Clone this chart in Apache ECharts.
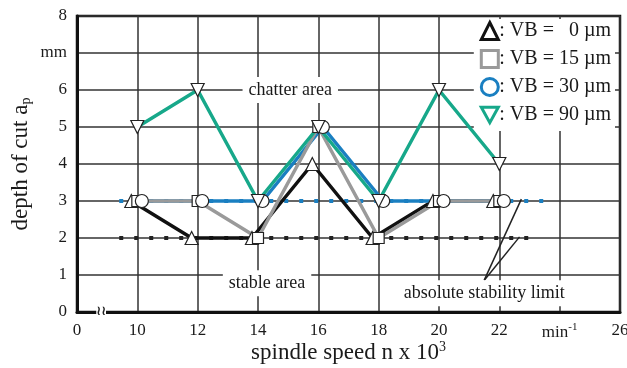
<!DOCTYPE html>
<html>
<head>
<meta charset="utf-8">
<script src="https://cdn.jsdelivr.net/npm/echarts@6/dist/echarts.min.js"></script>
<style>
  html, body { margin: 0; padding: 0; background: #fff; }
  #chart { width: 627px; height: 368px; }
</style>
</head>
<body>
<div id="chart"></div>
<script>
// spindle speed (x 10^3 min^-1) and depth of cut (mm) per flank wear VB
const speeds = [10, 12, 14, 16, 18, 20, 22];
const vb0 = [3, 2, 2, 4, 2, 3, 3];
const vb15 = [3, 3, 2, 5, 2, 3, 3];
const vb30 = [3, 3, 3, 5, 3, 3, 3];
const vb90 = [5, 6, 3, 5, 3, 6, 4];
const seriesNames = [': VB =   0 µm', ': VB = 15 µm', ': VB = 30 µm', ': VB = 90 µm'];

// absolute stability limits: [xStart, xEnd, depth]
const limitBlack = [9.4, 23.0, 2];
const limitBlue = [9.4, 23.5, 3];

const yTicks = [0, 1, 2, 3, 4, 5, 6, 7, 8];
const xTicks = [8, 10, 12, 14, 16, 18, 20, 22, 24, 26];

const serif = '"Liberation Serif", "DejaVu Serif", serif';
const colors = ['#111111', '#9a9a9a', '#1a7fc1', '#17a88a'];
const symbols = ['triangle', 'rect', 'circle', 'path://M0,0 L10,0 L5,9 Z'];
// small horizontal shifts the figure uses so overlapping markers stay visible
const shifts = [-0.2, 0, 0.15, 0];
const allValues = [vb0, vb15, vb30, vb90];

const chart = echarts.init(document.getElementById('chart'));

const lineSeries = allValues.map((vals, i) => ({
  name: seriesNames[i],
  type: 'line',
  data: speeds.map((s, k) => [s + shifts[i], vals[k]]),
  showSymbol: false,
  lineStyle: { color: colors[i], width: 3.5 },
  itemStyle: { color: colors[i] },
  z: [3, 5, 4, 6][i]
}));

const markerSeries = allValues.map((vals, i) => ({
  name: seriesNames[i],
  type: 'scatter',
  data: speeds.map((s, k) => [s + shifts[i], vals[k]]),
  symbol: i === 3 ? 'triangle' : symbols[i],
  symbolRotate: i === 3 ? 180 : 0,
  symbolSize: i === 1 ? 11 : 13,
  itemStyle: { color: '#fff', borderColor: '#222', borderWidth: 1.2, opacity: 1 },
  z: 10
}));

const limitSeries = [limitBlack, limitBlue].map((l, i) => ({
  type: 'line',
  data: [[l[0], l[2]], [l[1], l[2]]],
  showSymbol: false,
  silent: true,
  lineStyle: { color: i === 0 ? '#222' : '#1a7fc1', width: 4, type: [4, 11] },
  z: 2
}));

// leader lines for "absolute stability limit"
const leaders = [
  [[21.5, 0.86], [22.73, 3.05]],
  [[21.5, 0.86], [22.67, 2.03]]
];
const leaderSeries = leaders.map(seg => ({
  type: 'line',
  data: seg,
  showSymbol: false,
  silent: true,
  lineStyle: { color: '#222', width: 1.5 },
  z: 7
}));

// area annotations
const notes = [
  { text: 'chatter area', x: 15.07, y: 6 },
  { text: 'stable area', x: 14.3, y: 0.78 },
  { text: 'absolute stability limit', x: 21.5, y: 0.51 }
];
const noteSeries = {
  type: 'scatter',
  silent: true,
  symbolSize: 0,
  itemStyle: { opacity: 1 },
  data: notes.map(n => ({ value: [n.x, n.y], name: n.text })),
  label: {
    show: true,
    position: 'inside',
    formatter: p => p.name,
    fontFamily: serif,
    fontSize: 18,
    color: '#1a1a1a',
    backgroundColor: '#fff',
    padding: [4, 6]
  },
  z: 8
};

// axis break mark
const breakSeries = {
  type: 'scatter',
  silent: true,
  symbolSize: 0,
  itemStyle: { opacity: 1 },
  data: [[8.8, 0]],
  label: {
    show: true, position: 'inside', formatter: '≀≀',
    fontSize: 13, fontWeight: 'bold', color: '#222', fontFamily: '"DejaVu Sans", sans-serif',
    backgroundColor: '#fff', padding: [0, 0]
  },
  z: 12
};

chart.setOption({
  animation: false,
  backgroundColor: '#fff',
  grid: {
    left: 77, right: 7, top: 16, bottom: 56,
    outerBoundsMode: 'none',
    containLabel: false,
    show: true, borderColor: '#111', borderWidth: 2.5, backgroundColor: 'transparent'
  },
  legend: {
    orient: 'vertical',
    right: 12,
    top: 19,
    itemWidth: 17,
    itemHeight: 17,
    itemGap: 8,
    backgroundColor: '#fff',
    padding: [2, 4, 6, 6],
    textStyle: { fontFamily: serif, fontSize: 20, color: '#1a1a1a', padding: [0, 0, 0, -4] },
    data: seriesNames.map((n, i) => ({
      name: n,
      icon: symbols[i],
      itemStyle: { color: '#fff', borderColor: colors[i], borderWidth: 3 }
    }))
  },
  xAxis: {
    type: 'value',
    min: 8,
    max: 26,
    interval: 2,
    name: 'spindle speed n x 10{sup|3}',
    nameLocation: 'middle',
    nameGap: 28,
    nameMoveOverlap: false,
    nameTextStyle: {
      fontFamily: serif, fontSize: 23, color: '#1a1a1a',
      rich: { sup: { fontFamily: serif, fontSize: 14, verticalAlign: 'top', padding: [0, 0, 12, 0] } }
    },
    axisLine: { show: true, lineStyle: { color: '#111', width: 3 } },
    axisTick: { show: false },
    splitLine: { show: true, lineStyle: { color: '#333', width: 1.5 } },
    axisLabel: {
      fontFamily: serif, fontSize: 17, color: '#1a1a1a', margin: 10,
      formatter: v => {
        if (v === xTicks[0]) return '0';
        if (v === 24) return 'min{sup|-1}';
        return String(v);
      },
      rich: { sup: { fontFamily: serif, fontSize: 11, padding: [0, 0, 10, 0], color: '#1a1a1a' } }
    }
  },
  yAxis: {
    type: 'value',
    min: yTicks[0],
    max: yTicks[yTicks.length - 1],
    interval: 1,
    name: 'depth of cut a{sub|p}',
    nameLocation: 'middle',
    nameGap: 44,
    nameMoveOverlap: false,
    nameTextStyle: {
      fontFamily: serif, fontSize: 23, color: '#1a1a1a',
      rich: { sub: { fontFamily: serif, fontSize: 14, padding: [10, 0, 0, 0] } }
    },
    axisLine: { show: true, lineStyle: { color: '#111', width: 3 } },
    axisTick: { show: false },
    splitLine: { show: true, lineStyle: { color: '#333', width: 1.5 } },
    axisLabel: {
      fontFamily: serif, fontSize: 17, color: '#1a1a1a', margin: 10,
      formatter: v => (v === 7 ? 'mm' : String(v))
    }
  },
  series: [
    ...limitSeries,
    ...lineSeries,
    ...leaderSeries,
    noteSeries,
    ...markerSeries,
    breakSeries
  ]
});
</script>
</body>
</html>
